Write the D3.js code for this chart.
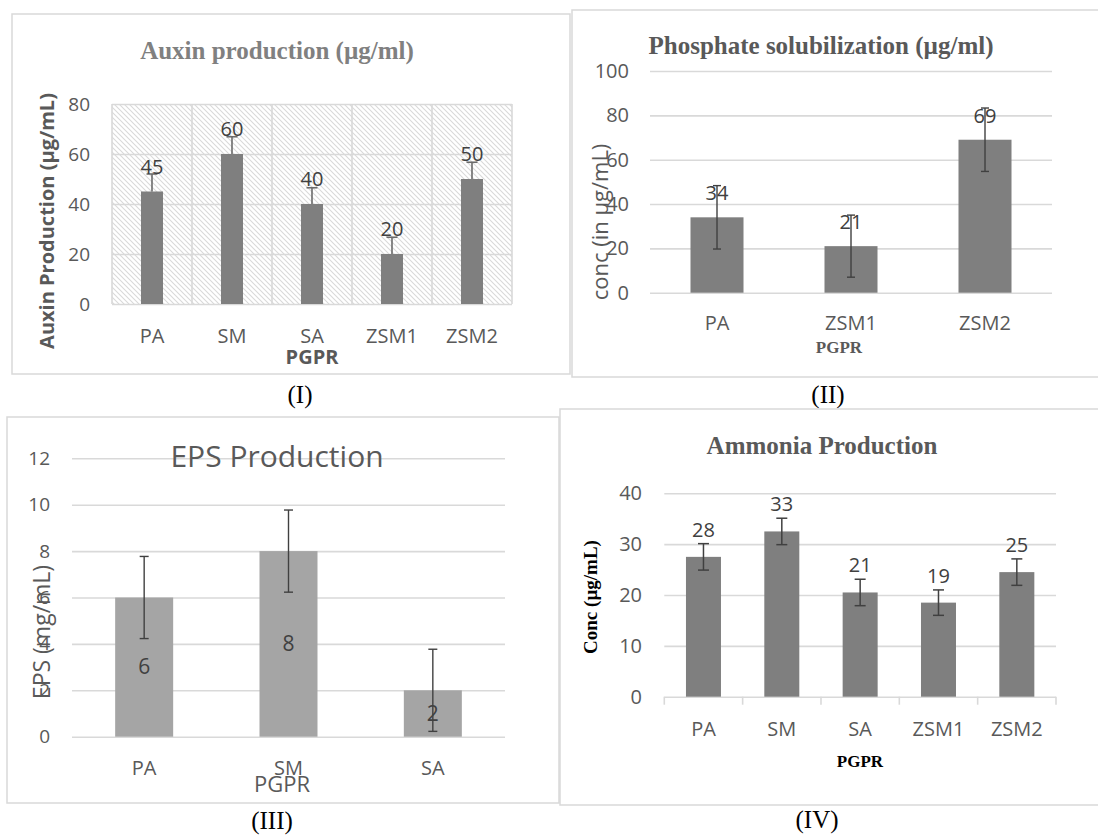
<!DOCTYPE html>
<html>
<head>
<meta charset="utf-8">
<script src="https://cdn.jsdelivr.net/npm/d3@7"></script>
<style>
  body { margin: 0; background: #fff; }
  text { font-family: 'Open Sans', sans-serif; }
  .serif { font-family: 'Liberation Serif', 'Times New Roman', serif; }
</style>
</head>
<body>
<div id="chartwrap"></div>
<script>
const WIDTH = 1098;
const HEIGHT = 836;

// (I) auxin
const auxinCats = ['PA', 'SM', 'SA', 'ZSM1', 'ZSM2'];
const auxinVals = [45, 60, 40, 20, 50];
const auxinErr = [7, 6.9, 6.5, 6.7, 6.7];
const auxinTicks = [0, 20, 40, 60, 80];

// (II) phosphate
const phosCats = ['PA', 'ZSM1', 'ZSM2'];
const phosVals = [34, 21, 69];
const phosErr = [14.3, 14, 14.3];
const phosTicks = [0, 20, 40, 60, 80, 100];

// (III) EPS
const epsCats = ['PA', 'SM', 'SA'];
const epsVals = [6, 8, 2];
const epsErr = [1.77, 1.77, 1.77];
const epsTicks = [0, 2, 4, 6, 8, 10, 12];

// (IV) ammonia
const ammCats = ['PA', 'SM', 'SA', 'ZSM1', 'ZSM2'];
const ammVals = [27.5, 32.5, 20.5, 18.5, 24.5];
const ammErr = [2.6, 2.6, 2.6, 2.5, 2.6];
const ammTicks = [0, 10, 20, 30, 40];

const grey = '#595959';
const grid = '#d9d9d9';

const svg = d3.select('#chartwrap')
  .append('svg')
  .attr('width', WIDTH)
  .attr('height', HEIGHT);

// hatch for panel I plot area
svg.append('defs')
  .append('pattern')
  .attr('id', 'hatch')
  .attr('patternUnits', 'userSpaceOnUse')
  .attr('width', 5)
  .attr('height', 5)
  .call(p => {
    p.append('path')
      .attr('d', 'M-1,-1 L6,6 M-1,4 L1,6 M4,-1 L6,1')
      .attr('stroke', '#d9d9d9')
      .attr('stroke-width', 1.1);
  });

const panels = [
  {
    cats: auxinCats, vals: auxinVals, err: auxinErr, ticks: auxinTicks,
    box: [12, 14, 570, 374], x0: 112, x1: 512, yb: 304, yt: 104,
    barW: 22, fill: '#7f7f7f', hatch: true, vgrid: true, plusOnly: true,
    cap: 11, errColor: '#6b6b6b', errW: 1.6,
    label: { mode: 'above', off: 18, size: 20 },
    tickX: 90, tickSize: 19, xLabY: 343, xSize: 20,
    title: { t: 'Auxin production (µg/ml)', x: 277, y: 59, size: 25, serif: true, bold: true, color: '#808080' },
    ytitle: { t: 'Auxin Production (µg/mL)', x: 47, y: 221, size: 20, bold: true, color: grey },
    xtitle: { t: 'PGPR', x: 312, y: 364, size: 20, bold: true, color: grey },
    caption: { t: '(I)', x: 300, y: 403 }
  },
  {
    cats: phosCats, vals: phosVals, err: phosErr, ticks: phosTicks,
    box: [572, 10, 1102, 377], x0: 650, x1: 1052, yb: 292.7, yt: 71,
    barW: 53, fill: '#7f7f7f', cap: 8, errColor: '#404040', errW: 1.4,
    label: { mode: 'above', off: 17, size: 20 },
    tickX: 629, tickSize: 20, xLabY: 330, xSize: 20,
    title: { t: 'Phosphate solubilization (µg/ml)', x: 821, y: 54, size: 25, serif: true, bold: true, color: grey },
    ytitle: { t: 'conc (in µg/mL)', x: 600, y: 222, size: 22, color: grey },
    xtitle: { t: 'PGPR', x: 839, y: 353, size: 17, serif: true, bold: true, color: grey },
    caption: { t: '(II)', x: 828, y: 403 }
  },
  {
    cats: epsCats, vals: epsVals, err: epsErr, ticks: epsTicks,
    box: [7, 417, 559, 803], x0: 72, x1: 505, yb: 736.7, yt: 458.3,
    barW: 58, fill: '#a5a5a5', cap: 9, errColor: '#404040', errW: 1.4,
    label: { mode: 'center', size: 21 },
    tickX: 50, tickSize: 19, xLabY: 775, xSize: 20,
    title: { t: 'EPS Production', x: 277, y: 467, size: 30, color: grey },
    ytitle: { t: 'EPS (mg/mL)', x: 42, y: 632, size: 23, color: grey },
    xtitle: { t: 'PGPR', x: 282, y: 792, size: 22, color: grey },
    caption: { t: '(III)', x: 272, y: 829 }
  },
  {
    cats: ammCats, vals: ammVals, err: ammErr, ticks: ammTicks,
    box: [560, 409, 1102, 805], x0: 664.3, x1: 1056, yb: 696.7, yt: 493.3,
    barW: 35, fill: '#7f7f7f', xticks: true, cap: 11, errColor: '#404040', errW: 1.5,
    label: { mode: 'above', off: 20, size: 20, round: true },
    tickX: 642, tickSize: 20, xLabY: 736, xSize: 20,
    title: { t: 'Ammonia Production', x: 822, y: 454, size: 25, serif: true, bold: true, color: grey },
    ytitle: { t: 'Conc (µg/mL)', x: 590, y: 597, size: 19, serif: true, bold: true, color: '#000' },
    xtitle: { t: 'PGPR', x: 860, y: 767, size: 17, serif: true, bold: true, color: '#000' },
    caption: { t: '(IV)', x: 817, y: 828 }
  }
];

function addText(g, o, rotate) {
  const t = g.append('text')
    .attr('text-anchor', 'middle')
    .attr('font-size', o.size)
    .attr('fill', o.color)
    .attr('font-weight', o.bold ? 'bold' : 'normal')
    .classed('serif', !!o.serif)
    .text(o.t);
  if (rotate) {
    t.attr('transform', `translate(${o.x},${o.y}) rotate(-90)`).attr('dy', '0.35em');
  } else {
    t.attr('x', o.x).attr('y', o.y);
  }
}

panels.forEach(p => {
  const g = svg.append('g');
  const [bx0, by0, bx1, by1] = p.box;

  g.append('rect')
    .attr('x', bx0).attr('y', by0)
    .attr('width', bx1 - bx0).attr('height', by1 - by0)
    .attr('fill', 'none')
    .attr('stroke', grid)
    .attr('stroke-width', 1.5);

  const x = d3.scaleBand().domain(p.cats).range([p.x0, p.x1]);
  const y = d3.scaleLinear().domain([0, d3.max(p.ticks)]).range([p.yb, p.yt]);
  const w = p.x1 - p.x0;

  if (p.hatch) {
    g.append('rect')
      .attr('x', p.x0).attr('y', p.yt)
      .attr('width', w).attr('height', p.yb - p.yt)
      .attr('fill', 'url(#hatch)');
  }

  // horizontal gridlines
  g.append('g')
    .attr('transform', `translate(${p.x0},0)`)
    .call(d3.axisLeft(y).tickValues(p.ticks).tickSize(-w).tickFormat(''))
    .call(a => a.select('.domain').remove())
    .call(a => a.selectAll('line').attr('stroke', grid).attr('stroke-width', 1.6));

  if (p.vgrid) {
    g.append('g')
      .selectAll('line')
      .data(p.cats.concat(['__end']))
      .join('line')
      .attr('x1', (d, i) => i < p.cats.length ? x(d) : p.x1)
      .attr('x2', (d, i) => i < p.cats.length ? x(d) : p.x1)
      .attr('y1', p.yt).attr('y2', p.yb)
      .attr('stroke', grid).attr('stroke-width', 1.6);
  }

  if (p.xticks) {
    g.append('g')
      .selectAll('line')
      .data(p.cats.concat(['__end']))
      .join('line')
      .attr('x1', (d, i) => i < p.cats.length ? x(d) : p.x1)
      .attr('x2', (d, i) => i < p.cats.length ? x(d) : p.x1)
      .attr('y1', p.yb).attr('y2', p.yb + 8)
      .attr('stroke', grid).attr('stroke-width', 1.6);
  }

  // tick labels
  g.append('g')
    .attr('transform', `translate(${p.tickX},0)`)
    .call(d3.axisLeft(y).tickValues(p.ticks).tickSize(0).tickPadding(0))
    .call(a => a.select('.domain').remove())
    .call(a => a.selectAll('text')
      .attr('font-family', "'Open Sans', sans-serif")
      .attr('font-size', p.tickSize)
      .attr('fill', grey));

  // category labels
  g.append('g')
    .attr('transform', `translate(0,${p.xLabY})`)
    .call(d3.axisBottom(x).tickSize(0).tickPadding(0))
    .call(a => a.select('.domain').remove())
    .call(a => a.selectAll('text')
      .attr('dy', 0)
      .attr('font-family', "'Open Sans', sans-serif")
      .attr('font-size', p.xSize)
      .attr('fill', grey));

  const rows = p.cats.map((c, i) => ({ c, v: p.vals[i], e: p.err[i] }));
  const cx = d => x(d.c) + x.bandwidth() / 2;

  g.append('g')
    .selectAll('rect')
    .data(rows)
    .join('rect')
    .attr('x', d => cx(d) - p.barW / 2)
    .attr('y', d => y(d.v))
    .attr('width', p.barW)
    .attr('height', d => y(0) - y(d.v))
    .attr('fill', p.fill);

  // error bars
  const eb = g.append('g')
    .attr('stroke', p.errColor)
    .attr('stroke-width', p.errW)
    .selectAll('g')
    .data(rows)
    .join('g');
  eb.append('line')
    .attr('x1', cx).attr('x2', cx)
    .attr('y1', d => y(d.v + d.e))
    .attr('y2', d => p.plusOnly ? y(d.v) : y(d.v - d.e));
  eb.append('line')
    .attr('x1', d => cx(d) - p.cap / 2).attr('x2', d => cx(d) + p.cap / 2)
    .attr('y1', d => y(d.v + d.e)).attr('y2', d => y(d.v + d.e));
  if (!p.plusOnly) {
    eb.append('line')
      .attr('x1', d => cx(d) - p.cap / 2).attr('x2', d => cx(d) + p.cap / 2)
      .attr('y1', d => y(d.v - d.e)).attr('y2', d => y(d.v - d.e));
  }

  // data labels
  g.append('g')
    .selectAll('text')
    .data(rows)
    .join('text')
    .attr('text-anchor', 'middle')
    .attr('font-size', p.label.size)
    .attr('fill', '#404040')
    .attr('x', cx)
    .attr('y', d => p.label.mode === 'center' ? y(d.v / 2) : y(d.v) - p.label.off)
    .attr('dy', p.label.mode === 'center' ? '0.35em' : 0)
    .text(d => p.label.round ? Math.round(d.v) : d.v);

  addText(g, p.title);
  addText(g, p.ytitle, true);
  addText(g, p.xtitle);
  addText(g, { t: p.caption.t, x: p.caption.x, y: p.caption.y, size: 25, serif: true, color: '#000' });
});
</script>
</body>
</html>
